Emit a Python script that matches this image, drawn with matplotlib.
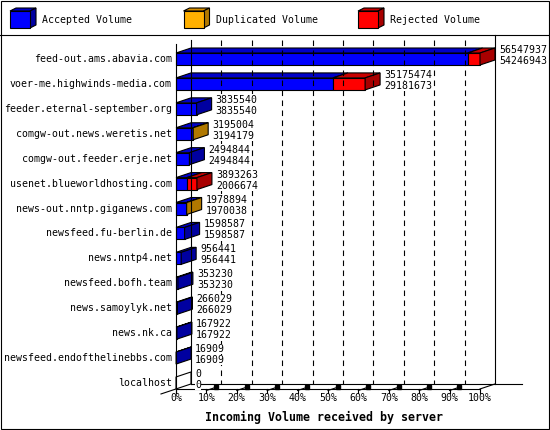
import matplotlib
matplotlib.use('Agg')
import matplotlib.pyplot as plt
from matplotlib.patches import Rectangle, Polygon
from matplotlib.lines import Line2D

# ---------------- data ----------------
servers = ['feed-out.ams.abavia.com', 'voer-me.highwinds-media.com',
           'feeder.eternal-september.org', 'comgw-out.news.weretis.net',
           'comgw-out.feeder.erje.net', 'usenet.blueworldhosting.com',
           'news-out.nntp.giganews.com', 'newsfeed.fu-berlin.de',
           'news.nntp4.net', 'newsfeed.bofh.team', 'news.samoylyk.net',
           'news.nk.ca', 'newsfeed.endofthelinebbs.com', 'localhost']
total_volume = [56547937, 35175474, 3835540, 3195004, 2494844, 3893263,
                1978894, 1598587, 956441, 353230, 266029, 167922, 16909, 0]
accepted_volume = [54246943, 29181673, 3835540, 3194179, 2494844, 2006674,
                   1970038, 1598587, 956441, 353230, 266029, 167922, 16909, 0]
duplicated_volume = [0, 0, 0, 825, 0, 0, 8856, 0, 0, 0, 0, 0, 0, 0]
rejected_volume = [2300994, 5993801, 0, 0, 0, 1886589, 0, 0, 0, 0, 0, 0, 0, 0]
series_names = ['Accepted Volume', 'Duplicated Volume', 'Rejected Volume']
x_ticks = [0, 10, 20, 30, 40, 50, 60, 70, 80, 90, 100]
x_title = 'Incoming Volume received by server'

# ---------------- style ----------------
front_colors = ['#0000FF', '#FFB000', '#FF0000']
top_colors = ['#0000C8', '#D89000', '#C80000']
side_colors = ['#0000A0', '#B07800', '#A80000']
FONT = 'DejaVu Sans Mono'
FS = 7.1
LW = 0.8
WHITE_BOX = dict(fc='white', ec='none', pad=0.3)

W, H, DPI = 550, 430, 100
fig = plt.figure(figsize=(W / DPI, H / DPI), dpi=DPI)
fig.patch.set_facecolor('white')
bg = fig.add_axes([0, 0, 1, 1])
bg.set_xlim(0, W)
bg.set_ylim(H, 0)
bg.axis('off')

# frame and header separator
bg.add_patch(Rectangle((0.5, 0.5), W - 1.5, H - 1.5, fill=False, ec='black', lw=LW))
bg.add_line(Line2D([0, W], [35, 35], color='black', lw=LW))

# legend
leg_x = [10, 183.5, 358]
for k, name in enumerate(series_names):
    x0 = leg_x[k]
    fx, fy, fw, fh, ddx, ddy = x0, 11, 20, 17, 6, 3
    bg.add_patch(Polygon([(fx, fy), (fx + ddx, fy - ddy), (fx + fw + ddx, fy - ddy), (fx + fw, fy)],
                         closed=True, fc=top_colors[k], ec='black', lw=LW))
    bg.add_patch(Polygon([(fx + fw, fy), (fx + fw + ddx, fy - ddy), (fx + fw + ddx, fy + fh - ddy), (fx + fw, fy + fh)],
                         closed=True, fc=side_colors[k], ec='black', lw=LW))
    bg.add_patch(Rectangle((fx, fy), fw, fh, fc=front_colors[k], ec='black', lw=LW))
    bg.text(x0 + 32, 20, name, family=FONT, fontsize=FS, ha='left', va='center')

# ---------------- plot area ----------------
X0, X1 = 176, 480
ROW0, ROWSTEP = 59, 24.92
TOP_PX = 40
n = len(servers)
BAR_H = 12 / ROWSTEP
y_bottom = n - 1 + BAR_H / 2
y_top = (TOP_PX - ROW0) / ROWSTEP
bottom_px = ROW0 + ROWSTEP * y_bottom
ax = fig.add_axes([X0 / W, 1 - bottom_px / H, (X1 - X0) / W, (bottom_px - TOP_PX) / H])
ax.set_xlim(0, 100)
ax.set_ylim(y_bottom, y_top)
ax.axis('off')
px_x = 100 / (X1 - X0)
px_y = 1 / ROWSTEP
DX = 15 * px_x
DY = -5 * px_y

vmax = max(total_volume)
pct = lambda v: v / vmax * 100.0

floor_back = y_bottom + DY
# back wall, right wall, front axis
ax.add_line(Line2D([DX, DX], [y_top, floor_back], color='black', lw=LW, clip_on=False))
ax.add_line(Line2D([100 + DX, 100 + DX], [y_top - 5 * px_y, floor_back], color='black', lw=LW, clip_on=False))
ax.add_line(Line2D([0, 0], [y_top + 4 * px_y, y_bottom + 3 * px_y], color='black', lw=LW, clip_on=False))
# dashed grid on back wall
for t in x_ticks[1:-1]:
    ax.add_line(Line2D([t + DX, t + DX], [y_top, floor_back], color='black', lw=LW,
                       ls=(0, (5, 4)), clip_on=False))
# floor
ax.add_line(Line2D([DX, 100 + DX + 27 * px_x], [floor_back, floor_back], color='black', lw=LW, clip_on=False))
ax.add_line(Line2D([0, 100], [y_bottom, y_bottom], color='black', lw=LW, clip_on=False))
ax.add_line(Line2D([100, 100 + DX], [y_bottom, floor_back], color='black', lw=LW, clip_on=False))
ax.add_line(Line2D([0, -DX], [y_bottom, y_bottom - DY], color='black', lw=LW, clip_on=False))
# floor ticks and labels
for t in x_ticks:
    if 0 < t < 100:
        ax.add_line(Line2D([t, t + 0.7 * DX], [y_bottom + 1.5 * px_y, y_bottom + 0.7 * DY + 1.5 * px_y],
                           color='black', lw=LW, clip_on=False))
        ax.plot([t + 0.65 * DX], [y_bottom + 0.65 * DY + 1.2 * px_y], marker='s', ms=2.2,
                color='black', clip_on=False)
    ax.add_line(Line2D([t, t], [y_bottom, y_bottom + 4 * px_y], color='black', lw=LW, clip_on=False))
    ax.text(t, y_bottom + 9 * px_y, f'{t}%', family=FONT, fontsize=FS, ha='center', va='center')

ax.text(48.8, y_bottom + 28 * px_y, x_title, family=FONT, fontsize=8.4, fontweight='bold',
        ha='center', va='center')

# bars
for i, name in enumerate(servers):
    segs = [accepted_volume[i], duplicated_volume[i], rejected_volume[i]]
    yt = i - BAR_H / 2
    yb = i + BAR_H / 2
    start = 0.0
    last = None
    for k, v in enumerate(segs):
        if v <= 0:
            continue
        w = pct(v)
        ax.add_patch(Rectangle((start, yt), w, BAR_H, fc=front_colors[k], ec='black', lw=LW, clip_on=False))
        ax.add_patch(Polygon([(start, yt), (start + DX, yt + DY), (start + w + DX, yt + DY), (start + w, yt)],
                             closed=True, fc=top_colors[k], ec='black', lw=LW, clip_on=False))
        start += w
        last = k
    end = start
    ax.add_patch(Polygon([(end, yt), (end + DX, yt + DY), (end + DX, yb + DY), (end, yb)],
                         closed=True, fc=side_colors[last] if last is not None else 'white',
                         ec='black', lw=LW, clip_on=False))
    tx = pct(total_volume[i]) + DX + 4 * px_x
    ax.text(tx, i - 9 * px_y, f'{total_volume[i]}', family=FONT, fontsize=FS, ha='left', va='center',
            bbox=WHITE_BOX, zorder=5)
    ax.text(tx, i + 2 * px_y, f'{accepted_volume[i]}', family=FONT, fontsize=FS, ha='left', va='center',
            bbox=WHITE_BOX, zorder=5)
    ax.text(-4 * px_x, i, name, family=FONT, fontsize=FS, ha='right', va='center')

fig.savefig('out.png', dpi=DPI)
